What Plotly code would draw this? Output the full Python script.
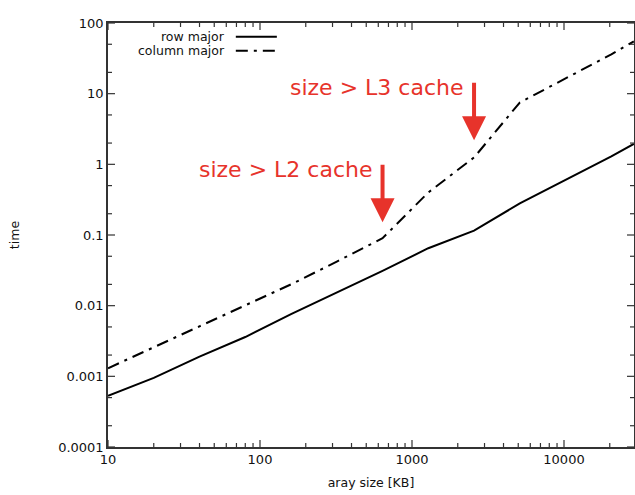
import math
import plotly.graph_objects as go

# Array size in KB and measured traversal times
sizes_kb = [10, 20, 40, 80, 160, 320, 640, 1280, 2560, 5120, 10240, 20480, 28800]
row_major = [0.00053, 0.00095, 0.0019, 0.0036, 0.0076, 0.0155, 0.031, 0.065, 0.115, 0.28, 0.6, 1.3, 1.95]
col_major = [0.0013, 0.0026, 0.0051, 0.0101, 0.020, 0.042, 0.09, 0.4, 1.25, 7.5, 16.6, 36, 55]

# Cache boundary markers: (array size, time at arrow tip, label)
cache_marks = [
    (640, 0.152, "size > L2 cache"),
    (2560, 2.2, "size > L3 cache"),
]

FONT = "DejaVu Sans"
RED = "#e7332b"
AXIS_COLOR = "#333"
DASHDOT = "12px,6px,3px,6px"
X_RANGE_LOG = [1, 1 + 526 / 152]
Y_RANGE_LOG = [-4, 2]

fig = go.Figure(layout=dict(template="none"))
fig.add_trace(go.Scatter(x=sizes_kb, y=row_major, mode="lines", name="row major",
                         line=dict(color="black", width=2)))
fig.add_trace(go.Scatter(x=sizes_kb, y=col_major, mode="lines", name="column major",
                         line=dict(color="black", width=2, dash=DASHDOT)))

fig.update_xaxes(
    type="log", showgrid=False, zeroline=False,
    showline=True, linecolor=AXIS_COLOR, linewidth=1.5, mirror=True, ticks="",
    tickmode="linear", tick0=0, dtick=1, tickformat="d",
    tickfont=dict(family=FONT, size=13, color="#111"),
    range=X_RANGE_LOG,
    title=dict(text="aray size [KB]", font=dict(family=FONT, size=12.5, color="#111"), standoff=12),
)
fig.update_yaxes(
    type="log", showgrid=False, zeroline=False,
    showline=True, linecolor=AXIS_COLOR, linewidth=1.5, mirror=True, ticks="",
    tickmode="linear", tick0=0, dtick=1, exponentformat="none",
    tickfont=dict(family=FONT, size=13, color="#111"),
    range=Y_RANGE_LOG,
    title=dict(text="time", font=dict(family=FONT, size=12.5, color="#111"), standoff=36),
)

shapes = []


def tick_values(lo_exp, hi_exp, digits):
    """Log-axis tick positions (data units) with their major/minor flag."""
    out = []
    for e in range(math.floor(lo_exp), math.ceil(hi_exp) + 1):
        for d in digits:
            v = d * 10 ** e
            if lo_exp - 1e-9 <= math.log10(v) <= hi_exp + 1e-9:
                out.append((v, d == 1))
    return out


# Inward tick marks on all four sides of the frame
for v, major in tick_values(*X_RANGE_LOG, digits=range(1, 10)):
    ln = 7 if major else 4
    for anchor, sign in ((0, 1), (1, -1)):
        shapes.append(dict(type="line", xref="x", yref="paper", x0=v, x1=v,
                           ysizemode="pixel", yanchor=anchor, y0=0, y1=sign * ln,
                           line=dict(color=AXIS_COLOR, width=1.2)))
for v, major in tick_values(*Y_RANGE_LOG, digits=(1, 2, 5)):
    ln = 7 if major else 4
    for anchor, sign in ((0, 1), (1, -1)):
        shapes.append(dict(type="line", xref="paper", yref="y", y0=v, y1=v,
                           xsizemode="pixel", xanchor=anchor, x0=0, x1=sign * ln,
                           line=dict(color=AXIS_COLOR, width=1.2)))

annotations = []
for size, tip, label in cache_marks:
    annotations.append(dict(
        x=math.log10(size), y=math.log10(tip), xref="x", yref="y",
        ax=0, ay=-59, axref="pixel", ayref="pixel",
        text="", showarrow=True, arrowhead=2, arrowsize=1.2,
        arrowwidth=4, arrowcolor=RED, standoff=0,
    ))
    annotations.append(dict(
        x=math.log10(size), y=math.log10(tip), xref="x", yref="y",
        xshift=-9, yshift=53, xanchor="right", yanchor="middle",
        text=label, showarrow=False,
        font=dict(family=FONT, size=22, color=RED),
    ))

# Legend drawn inside the top-left corner: label on the left, line sample on the right
legend_rows = [("row major", None, 0.9677), ("column major", DASHDOT, 0.9347)]
for label, dash, yp in legend_rows:
    annotations.append(dict(x=0.226, y=yp, xref="paper", yref="paper",
                            xanchor="right", yanchor="middle", showarrow=False,
                            text=label, font=dict(family=FONT, size=12.5, color="#111")))
    shapes.append(dict(type="line", xref="paper", yref="paper",
                       x0=0.243, x1=0.321, y0=yp, y1=yp,
                       line=dict(color="black", width=2, dash=dash)))

fig.update_layout(
    width=635, height=495,
    margin=dict(l=108, r=1, t=23, b=48),
    paper_bgcolor="white", plot_bgcolor="white",
    showlegend=False,
    annotations=annotations, shapes=shapes,
)

fig.write_html("out.html")
